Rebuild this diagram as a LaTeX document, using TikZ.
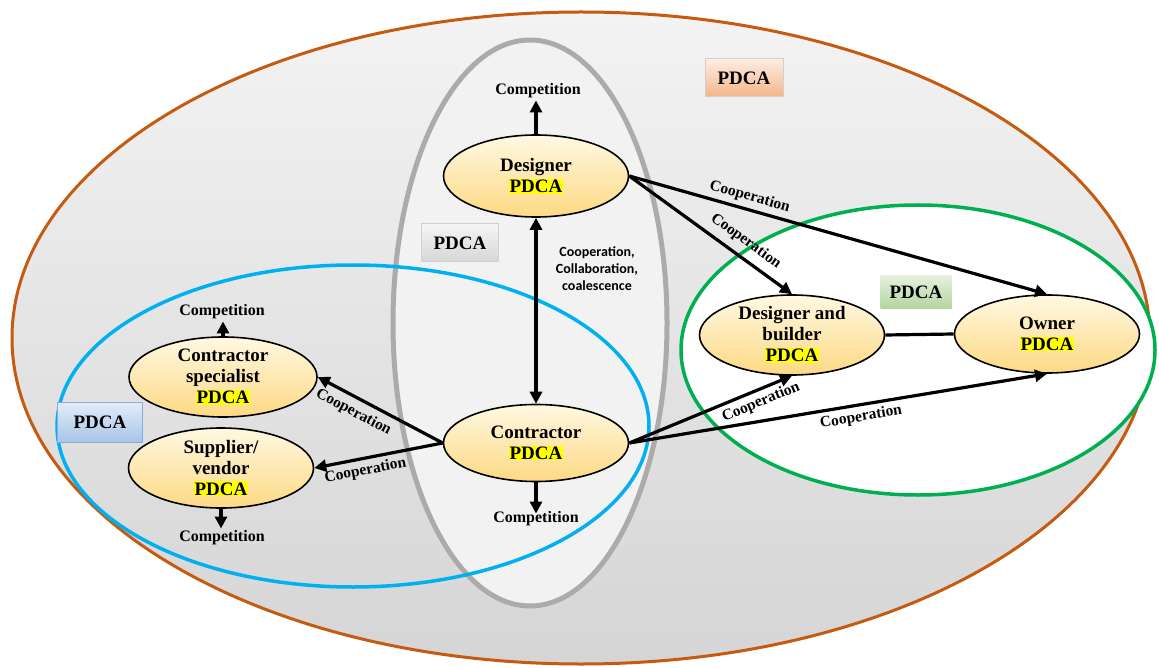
\documentclass[tikz,border=0pt]{standalone}
\usepackage{fontspec}
\setmainfont{Liberation Serif}
\newfontfamily\carlfont{Carlito}
\usetikzlibrary{shapes.geometric,arrows.meta}
\definecolor{outerline}{HTML}{C55A11}
\definecolor{outertop}{HTML}{F3F3F3}
\definecolor{outerbot}{HTML}{D5D5D5}
\definecolor{midline}{HTML}{AEAAAA}
\definecolor{midfill}{HTML}{F2F2F2}
\definecolor{blueline}{HTML}{00B0F0}
\definecolor{greenline}{HTML}{00B050}
\definecolor{nodetop}{HTML}{FFF8E2}
\definecolor{nodebot}{HTML}{FDD983}
\definecolor{hlyellow}{HTML}{FFFF00}
\definecolor{orangetop}{HTML}{FDEDE3}
\definecolor{orangebot}{HTML}{F4B487}
\definecolor{graytop}{HTML}{F5F5F5}
\definecolor{graybot}{HTML}{D6D6D6}
\definecolor{greentop}{HTML}{E6F1DF}
\definecolor{greenbot}{HTML}{B2D59F}
\definecolor{bluetop}{HTML}{E3EDF8}
\definecolor{bluebot}{HTML}{A8C5E8}
\definecolor{boxline}{HTML}{D0D0D0}
\definecolor{blueboxline}{HTML}{8EAADB}
\newcommand\hlpdca{{\setlength{\fboxsep}{1pt}\colorbox{hlyellow}{PDCA}}}
\begin{document}
\begin{tikzpicture}[x=1pt,y=-1pt,
  actor/.style={ellipse, draw=black, line width=1.6pt, top color=nodetop, bottom color=nodebot,
    minimum width=185pt, minimum height=80pt, inner sep=0pt, align=center,
    font=\bfseries\fontsize{19}{21}\selectfont},
  pdcabox/.style={draw=boxline, line width=1pt, minimum width=78pt, minimum height=38pt,
    inner sep=0pt, font=\bfseries\fontsize{19}{21}\selectfont},
  comp/.style={font=\bfseries\fontsize{16}{18}\selectfont, inner sep=2pt},
  coop/.style={font=\bfseries\fontsize{15.5}{18}\selectfont, sloped, inner sep=2pt},
  conn/.style={line width=3.2pt, -{Triangle[length=12pt,width=12pt]}},
  dconn/.style={line width=3.2pt, {Triangle[length=12pt,width=12pt]}-{Triangle[length=12pt,width=12pt]}}
]
\useasboundingbox (0,0) rectangle (1159,668);
\fill[white] (0,0) rectangle (1159,668);
% big regions
\draw[draw=outerline, line width=3pt, top color=outertop, bottom color=outerbot]
  (581,338) ellipse [x radius=569, y radius=326];
\draw[draw=greenline, line width=3.5pt, fill=white]
  (918,350) ellipse [x radius=237, y radius=145];
\draw[draw=midline, line width=5pt, fill=midfill]
  (530,323) ellipse [x radius=137, y radius=283];
\draw[draw=blueline, line width=3.5pt]
  (353,426) ellipse [x radius=296, y radius=161];
% PDCA boxes
\node[pdcabox, top color=orangetop, bottom color=orangebot] (pOuter) at (744,78) {PDCA};
\node[pdcabox, top color=graytop, bottom color=graybot, minimum width=77pt] (pMid) at (460,243) {PDCA};
\node[pdcabox, draw=none, top color=greentop, bottom color=greenbot, minimum width=71pt, minimum height=33pt] (pGreen) at (916,292) {PDCA};
\node[pdcabox, draw=blueboxline, top color=bluetop, bottom color=bluebot, minimum width=85pt, minimum height=40pt] (pBlue) at (100,422) {PDCA};
% actors
\node[actor, minimum height=82pt] (des) at (536,176) {Designer\\\hlpdca};
\node[actor, minimum height=77pt] (con) at (536,443) {Contractor\\\hlpdca};
\node[actor, minimum width=188pt] (spec) at (223,377) {Contractor\\specialist\\\hlpdca};
\node[actor] (sup) at (221,468) {Supplier/\\vendor\\\hlpdca};
\node[actor] (dab) at (792,335) {Designer and\\builder\\\hlpdca};
\node[actor, minimum height=78pt] (own) at (1047,334) {Owner\\\hlpdca};
% competition labels
\node[comp] (cDes) at (538,91) {Competition};
\node[comp] (cCon) at (536,519) {Competition};
\node[comp] (cSpec) at (222,312) {Competition};
\node[comp] (cSup) at (222,538) {Competition};
\draw[conn] (des.north) -- (des.north |- cDes.south);
\draw[conn] (con.south) -- ([yshift=-4pt]con.south |- cCon.north);
\draw[conn] (spec.north) -- (spec.north |- cSpec.south);
\draw[conn] (sup.south) -- (sup.south |- cSup.north);
% central link
\draw[dconn] (des.south) -- (con.north);
\node[font=\carlfont\bfseries\fontsize{14}{17}\selectfont, align=center] (ccc) at (597,269)
  {Cooperation,\\Collaboration,\\coalescence};
% cooperation arrows
\draw[conn] (des.east) -- node[coop, pos=0.66, above=5pt] {Cooperation} (dab.north);
\draw[conn] (des.east) -- node[coop, pos=0.28, above=2pt] {Cooperation} (own.north);
\draw[line width=3.2pt] (dab.east) -- (own.west);
\draw[conn] (con.east) -- node[coop, pos=0.78, below=2pt] {Cooperation} (dab.south);
\draw[conn] (con.east) -- node[coop, pos=0.55, below=2pt] {Cooperation} (own.south);
\draw[conn] (con.west) -- node[coop, pos=0.66, below=4pt] {Cooperation} (spec.east);
\draw[conn] (con.west) -- node[coop, pos=0.62, below=2pt] {Cooperation} (sup.east);
\end{tikzpicture}
\end{document}
